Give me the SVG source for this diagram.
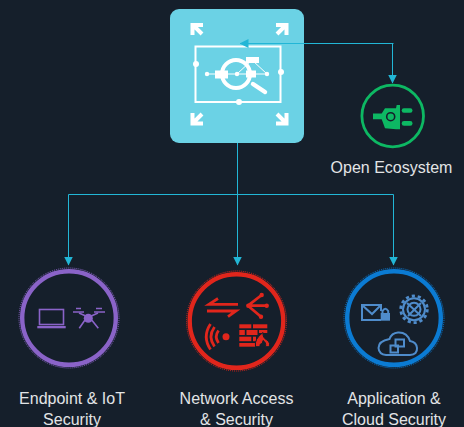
<svg xmlns="http://www.w3.org/2000/svg" width="464" height="427" viewBox="0 0 464 427">
<style>
.lbl{font-family:"Liberation Sans",Arial,sans-serif;font-size:16px;fill:#e2e4e6;text-anchor:middle}
.conn{fill:none;stroke:#22b6d6;stroke-width:1}
.w{fill:#fff;stroke:none}
.wl{fill:none;stroke:#fff}
.p{fill:none;stroke:#8a63c8;stroke-width:1.6}
.pf{fill:#8a63c8}
.r{fill:none;stroke:#e1261c;stroke-width:2.800}
.rf{fill:#e1261c}
.b{fill:none;stroke:#4f8ccb;stroke-width:2}
.bf{fill:#4f8ccb}
</style>
<defs>
<marker id="arr" viewBox="0 0 9 9" refX="8.500" refY="4.500" markerWidth="9" markerHeight="9" markerUnits="userSpaceOnUse" orient="auto"><path d="M0 0L9 4.500L0 9L0 0Z" fill="#22b6d6"/></marker>
</defs>
<rect width="464" height="427" fill="#151f2b"/>
<g id="main">
<rect x="170" y="9" width="134" height="134" rx="9" fill="#6bd2e5"/>
<g class="wl" stroke-width="4">
<path d="M192.500 35V25H203M193 25L202 34"/>
<path d="M276 25H286.500V35M286 25L277 34"/>
<path d="M192.500 113V123.500H203M193 123L202 114"/>
<path d="M276 123.500H286.500V113M286 123L277 114"/>
</g>
<rect x="195.500" y="46.500" width="85" height="55.500" class="wl" stroke-width="2"/>
<circle cx="196" cy="64" r="3" class="w"/><circle cx="281" cy="72" r="3" class="w"/><circle cx="239" cy="102" r="3" class="w"/>
<path d="M207 74H267M237 74L252 60L267 74" class="wl" stroke-width="1"/>
<circle cx="236" cy="74" r="14" class="wl" stroke-width="4"/>
<path d="M253 84L265 92" class="wl" stroke-width="4.500" stroke-linecap="round"/>
<rect x="215" y="70.500" width="13" height="8" class="w"/><rect x="246" y="70.500" width="10" height="7" class="w"/><rect x="246" y="57" width="13" height="6" class="w"/>
<circle cx="207" cy="74" r="2.200" class="w"/><circle cx="237" cy="74" r="2.200" class="w"/><circle cx="267" cy="74" r="2.200" class="w"/>
</g>
<g id="ecosystem">
<circle cx="392.700" cy="116" r="30.800" fill="none" stroke="#0db863" stroke-width="2.800"/>
<path d="M373 113.500H381.700L385 108.300H396L396.700 105H400V129.300H396L385 128.300L381.700 119.300H373Z" fill="#0db863"/>
<rect x="401.700" y="108.300" width="10.800" height="4.500" rx="2.200" fill="#0db863"/>
<rect x="401.700" y="121" width="10.800" height="4.800" rx="2.300" fill="#0db863"/>
<circle cx="390.700" cy="116.700" r="4" fill="none" stroke="#151f2b" stroke-width="1.600"/>
<text class="lbl" x="391.500" y="173">Open Ecosystem</text>
</g>
<g id="endpoint">
<circle cx="69" cy="318" r="50" fill="none" stroke="#8a63c8" stroke-width="1" stroke-dasharray="1 1"/>
<circle cx="69" cy="318" r="46.800" fill="none" stroke="#8a63c8" stroke-width="4.400"/>
<rect x="39.500" y="309.500" width="24" height="15" class="p"/>
<rect x="37.300" y="326" width="28.400" height="2.300" class="pf"/>
<path d="M73 312H84M94 312H105" class="p" stroke-width="2"/>
<path d="M76 308.500H81M96 308.500H102" class="p" stroke-width="1"/>
<path d="M79 313L88 317M98 313L89 317" class="p"/>
<circle cx="88.300" cy="318.300" r="4.500" class="pf"/>
<path d="M85 320L79.300 328.300M91.700 320L98.300 328.300" class="p"/>
<text class="lbl" x="72" y="404">Endpoint &amp; IoT</text>
<text class="lbl" x="72" y="425">Security</text>
</g>
<g id="network">
<circle cx="236.500" cy="321" r="50" fill="none" stroke="#e1261c" stroke-width="1" stroke-dasharray="1 1"/>
<circle cx="236.500" cy="321" r="46.800" fill="none" stroke="#e1261c" stroke-width="4.400"/>
<path d="M238 304.300H209L218 298.500" class="r"/>
<path d="M207 311H236L228 316.700" class="r"/>
<path d="M248 305.700H266M248 305.700L261.700 295M248 305.700L261 316.700" class="r" stroke-width="1.200"/>
<circle cx="248.300" cy="305.700" r="2.200" class="rf"/><circle cx="261.700" cy="295" r="2.200" class="rf"/><circle cx="266.700" cy="305.700" r="2.200" class="rf"/><circle cx="261" cy="316.700" r="2.200" class="rf"/>
<circle cx="226" cy="336.700" r="3.500" class="rf"/>
<path d="M218.500 330.500Q214 336.700 218.500 343M214.500 327Q207.500 336.700 214.500 346.500M210.500 324Q202 336.700 210.500 349.500" class="r"/>
<g class="rf">
<rect x="239.300" y="324.300" width="12" height="4"/><rect x="253" y="324.300" width="14.300" height="4"/>
<rect x="239.300" y="330" width="5.500" height="5"/><rect x="246.500" y="330" width="11" height="5"/><rect x="259" y="330" width="8.300" height="3"/>
<rect x="239.300" y="336.700" width="12" height="4.500"/><rect x="253" y="336.700" width="3" height="4.500"/>
<rect x="239.300" y="343" width="16" height="3.700"/>
</g>
<path d="M255.500 346.700Q254 339 263 332.500Q262.500 338 267 340Q271.500 344 268.500 346.700H265.500Q266.500 342.500 263 340.500Q263 344 260 344.500V346.700Z" fill="#e1261c" stroke="#151f2b" stroke-width="1"/>
<text class="lbl" x="236.500" y="404">Network Access</text>
<text class="lbl" x="236.500" y="425">&amp; Security</text>
</g>
<g id="cloud">
<circle cx="394" cy="318" r="50" fill="none" stroke="#0b7bd3" stroke-width="1" stroke-dasharray="1 1"/>
<circle cx="394" cy="318" r="46.800" fill="none" stroke="#0b7bd3" stroke-width="4.400"/>
<path d="M381 320H362V305H381V311M362 305L372 314L381 305" class="b" stroke-width="1.700"/>
<rect x="380.700" y="313" width="9.300" height="7.700" class="bf"/>
<path d="M382.500 314V311Q385.300 306.500 388.200 311V314" class="b" stroke-width="1.400"/>
<circle cx="414" cy="309.300" r="11" class="b" stroke-width="2.800"/>
<circle cx="414" cy="309.300" r="13.300" fill="none" stroke="#4f8ccb" stroke-width="2.800" stroke-dasharray="3.200 2.800"/>
<path d="M407 303L421 316M421 303L408 316" class="b" stroke-width="1.300"/>
<circle cx="414" cy="309.300" r="6.500" class="b" stroke-width="1.300"/>
<path d="M386 355H410Q417.500 354.500 417 348Q416.500 342 410 341Q407 332 398 332.500Q391.500 333 389.500 339Q378.500 341 378.500 348Q379 354.500 386 355Z" class="b" stroke-width="1.900"/>
<rect x="390.500" y="345.500" width="7.500" height="7" class="b" stroke-width="1.600"/>
<rect x="395.500" y="339.500" width="8.500" height="7" class="b" stroke-width="1.600"/>
<text class="lbl" x="394" y="404">Application &amp;</text>
<text class="lbl" x="394" y="425">Cloud Security</text>
</g>
<g id="connectors">
<path class="conn" d="M393.500 43.500H240" marker-end="url(#arr)"/>
<path class="conn" d="M392.500 43.500V83" marker-end="url(#arr)"/>
<path class="conn" d="M237.500 143V265" marker-end="url(#arr)"/>
<path class="conn" d="M237.500 194.500H68.500V265" marker-end="url(#arr)"/>
<path class="conn" d="M237.500 194.500H393.500V265" marker-end="url(#arr)"/>
</g>
</svg>
